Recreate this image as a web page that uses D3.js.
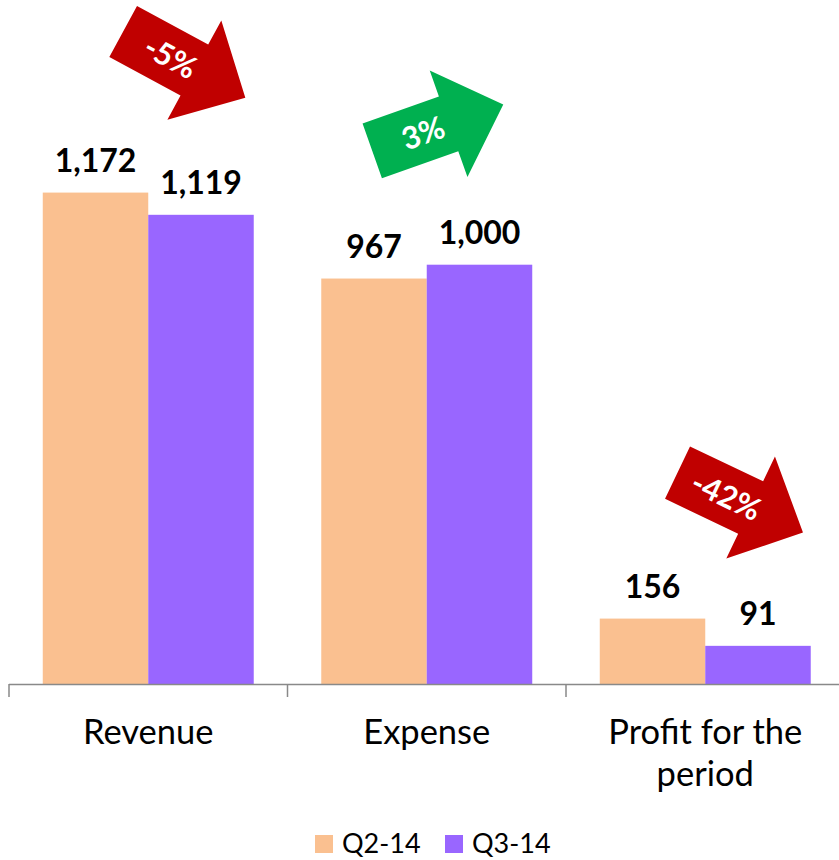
<!DOCTYPE html>
<html>
<head>
<meta charset="utf-8">
<script src="https://cdn.jsdelivr.net/npm/d3@7"></script>
<style>
    body { margin: 0; background: #fff; }
    svg { display: block; font-family: Lato, "Open Sans", sans-serif; }
</style>
</head>
<body>
<div id="chart"></div>
<script>
// Chart data
const categories = ["Revenue", "Expense", "Profit for the\nperiod"];
const seriesNames = ["Q2-14", "Q3-14"];
const q2Values = [1172, 967, 156];
const q3Values = [1119, 1000, 91];
const changeLabels = ["-5%", "3%", "-42%"];

const colors = { "Q2-14": "#FAC090", "Q3-14": "#9966FF" };
const arrowColors = ["#C00000", "#00B050", "#C00000"];

// Arrow placement (offset from the group centre / tallest bar top, rotation)
const arrowLayout = [
    { dx: 36, dy: -128, angle: 28.5 },
    { dx: 11, dy: -137, angle: -19.5 },
    { dx: 35, dy: -116, angle: 25.5 }
];

const width = 839, height = 860;
const baseline = 684;

const svg = d3.select("#chart")
    .append("svg")
    .attr("width", width)
    .attr("height", height);

// Scales
const x = d3.scaleBand()
    .domain(categories)
    .range([9, 9 + 3 * 278.5])
    .padding(0);

const xInner = d3.scaleBand()
    .domain(seriesNames)
    .range([0, x.bandwidth()])
    .paddingInner(0)
    .paddingOuter(0.32);

const y = d3.scaleLinear()
    .domain([0, 1400])
    .range([baseline, baseline - 1400 * 0.4193]);

const rows = categories.map((c, i) => ({
    category: c,
    values: [
        { series: "Q2-14", value: q2Values[i] },
        { series: "Q3-14", value: q3Values[i] }
    ]
}));

// Bars
const groups = svg.append("g")
    .selectAll("g")
    .data(rows)
    .join("g")
    .attr("transform", d => `translate(${x(d.category)},0)`);

groups.selectAll("rect")
    .data(d => d.values)
    .join("rect")
    .attr("x", d => xInner(d.series))
    .attr("y", d => y(d.value))
    .attr("width", xInner.bandwidth())
    .attr("height", d => y(0) - y(d.value))
    .attr("fill", d => colors[d.series]);

// Value labels
groups.selectAll("text.value")
    .data(d => d.values)
    .join("text")
    .attr("class", "value")
    .attr("x", d => xInner(d.series) + xInner.bandwidth() / 2)
    .attr("y", d => y(d.value) - 21)
    .attr("text-anchor", "middle")
    .style("font-size", "32px")
    .style("font-weight", "bold")
    .style("fill", "#000")
    .text(d => d3.format(",")(d.value));

// Axis line and tick marks at band boundaries
const axis = svg.append("g").attr("class", "axis");
axis.append("line")
    .attr("x1", x.range()[0])
    .attr("x2", x.range()[1])
    .attr("y1", baseline + 0.5)
    .attr("y2", baseline + 0.5)
    .attr("stroke", "#898989")
    .attr("stroke-width", 1.5);

const boundaries = categories.map(c => x(c)).concat([x.range()[1]]);
axis.selectAll("line.tick")
    .data(boundaries)
    .join("line")
    .attr("class", "tick")
    .attr("x1", d => d)
    .attr("x2", d => d)
    .attr("y1", baseline)
    .attr("y2", baseline + 13)
    .attr("stroke", "#898989")
    .attr("stroke-width", 1.5);

// Category labels
const catLabels = svg.append("g")
    .selectAll("text")
    .data(categories)
    .join("text")
    .attr("x", d => x(d) + x.bandwidth() / 2)
    .attr("y", baseline + 60)
    .attr("text-anchor", "middle")
    .style("font-size", "34.5px")
    .style("fill", "#000");

catLabels.selectAll("tspan")
    .data(d => d.split("\n"))
    .join("tspan")
    .attr("x", function () { return d3.select(this.parentNode).attr("x"); })
    .attr("dy", (d, i) => i === 0 ? 0 : 42)
    .text(d => d);

// Change arrows
const L = 139, shaftHalf = 29, headHalf = 56.5, headLen = 58;
const arrowPath = d3.line()([
    [-L / 2, -shaftHalf],
    [L / 2 - headLen, -shaftHalf],
    [L / 2 - headLen, -headHalf],
    [L / 2, 0],
    [L / 2 - headLen, headHalf],
    [L / 2 - headLen, shaftHalf],
    [-L / 2, shaftHalf]
]) + "Z";

const arrows = svg.append("g")
    .selectAll("g")
    .data(changeLabels.map((label, i) => ({ label, i })))
    .join("g")
    .attr("transform", d => {
        const lay = arrowLayout[d.i];
        const cx = x(categories[d.i]) + x.bandwidth() / 2 + lay.dx;
        const cy = y(Math.max(q2Values[d.i], q3Values[d.i])) + lay.dy;
        return `translate(${cx},${cy}) rotate(${lay.angle})`;
    });

arrows.append("path")
    .attr("d", arrowPath)
    .attr("fill", d => arrowColors[d.i]);

arrows.append("text")
    .attr("x", -L / 2 + 54)
    .attr("y", 0)
    .attr("dy", "0.36em")
    .attr("text-anchor", "middle")
    .style("font-size", "31px")
    .style("font-weight", "bold")
    .style("fill", "#fff")
    .text(d => d.label);

// Legend
const legend = svg.append("g")
    .attr("class", "legend");

const legendX = [315, 445];
const legendItems = legend.selectAll("g")
    .data(seriesNames)
    .join("g")
    .attr("transform", (d, i) => `translate(${legendX[i]}, 835)`);

legendItems.append("rect")
    .attr("width", 18)
    .attr("height", 18)
    .attr("fill", d => colors[d]);

legendItems.append("text")
    .attr("x", 27)
    .attr("y", 18)
    .style("font-size", "27px")
    .style("fill", "#000")
    .text(d => d);
</script>
</body>
</html>
